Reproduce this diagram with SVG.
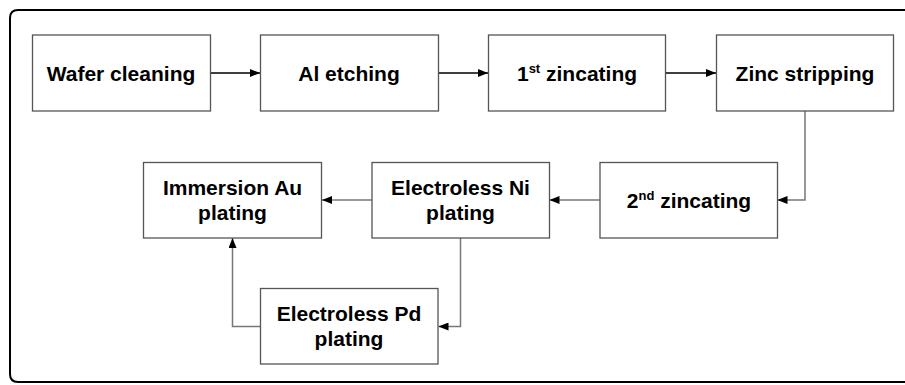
<svg xmlns="http://www.w3.org/2000/svg" width="905" height="385" viewBox="0 0 905 385">
<defs>
<style>
.box{fill:#fff;stroke:#555;stroke-width:1.3}
.t{font-family:"Liberation Sans",Arial,sans-serif;font-weight:bold;font-size:21px;fill:#000;text-anchor:middle}
.sup{font-size:13px}
.c{fill:none;stroke:#777;stroke-width:1.5}
.k{stroke:#000;stroke-width:1.3}
</style>
<marker id="ah" viewBox="0 0 10 8" refX="10" refY="4" markerWidth="10" markerHeight="8" markerUnits="userSpaceOnUse" orient="auto">
<path d="M0,0 L10,4 L0,8 Z" fill="#000"/>
</marker>
</defs>
<rect width="905" height="385" fill="#fff"/>
<path d="M920,10 L18,10 Q10,10 10,18 L10,374 Q10,382 18,382 L920,382" fill="none" stroke="#000" stroke-width="2"/>
<g id="connectors">
<path class="c k" d="M210,73 H260" marker-end="url(#ah)"/>
<path class="c k" d="M438,73 H488" marker-end="url(#ah)"/>
<path class="c k" d="M666,73 H716" marker-end="url(#ah)"/>
<path class="c" d="M805,111 V200 H777.5" marker-end="url(#ah)"/>
<path class="c" d="M600,200 H549.5" marker-end="url(#ah)"/>
<path class="c" d="M372,200 H322" marker-end="url(#ah)"/>
<path class="c" d="M460.5,238 V326.5 H438.5" marker-end="url(#ah)"/>
<path class="c" d="M260,326.5 H232.5 V238" marker-end="url(#ah)"/>
</g>
<g id="wafer-cleaning">
<rect class="box" x="32.5" y="35" width="178" height="76"/>
<text class="t" x="121" y="80.5">Wafer cleaning</text>
</g>
<g id="al-etching">
<rect class="box" x="260.5" y="35" width="178" height="76"/>
<text class="t" x="349" y="80.5">Al etching</text>
</g>
<g id="first-zincating">
<rect class="box" x="488.5" y="35" width="177" height="76"/>
<text class="t" x="577" y="80.5">1<tspan class="sup" dy="-8">st</tspan><tspan dy="8"> zincating</tspan></text>
</g>
<g id="zinc-stripping">
<rect class="box" x="716.5" y="35" width="177" height="76"/>
<text class="t" x="805" y="80.5">Zinc stripping</text>
</g>
<g id="second-zincating">
<rect class="box" x="600" y="162.5" width="177.5" height="75.5"/>
<text class="t" x="689" y="207.5">2<tspan class="sup" dy="-8">nd</tspan><tspan dy="8"> zincating</tspan></text>
</g>
<g id="electroless-ni">
<rect class="box" x="372" y="162.5" width="177.5" height="75.5"/>
<text class="t" x="460.5" y="195">Electroless Ni</text>
<text class="t" x="460.5" y="220">plating</text>
</g>
<g id="immersion-au">
<rect class="box" x="143.5" y="162.5" width="178" height="75.5"/>
<text class="t" x="232.5" y="195">Immersion Au</text>
<text class="t" x="232.5" y="220">plating</text>
</g>
<g id="electroless-pd">
<rect class="box" x="260.5" y="288.5" width="177.5" height="75.5"/>
<text class="t" x="349" y="321">Electroless Pd</text>
<text class="t" x="349" y="346">plating</text>
</g>
</svg>
